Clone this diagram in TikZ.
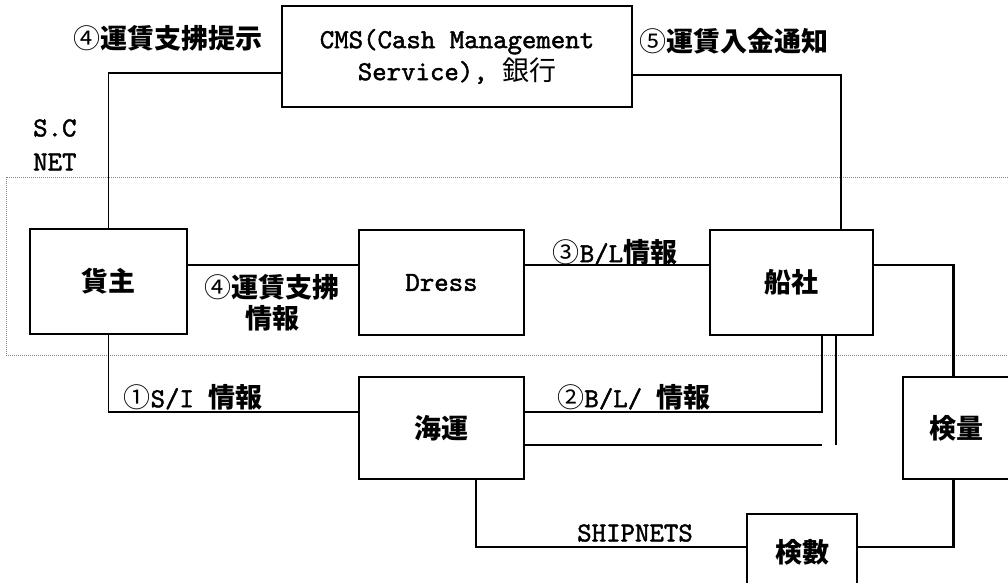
\documentclass[tikz,border=0pt]{standalone}
\usepackage{fontspec}
\newfontfamily\jp{Noto Sans CJK JP}
\newfontfamily\lmono{lmmono10-regular.otf}[FakeBold=1.6]
\newcommand\jpb{\jp\bfseries\fontsize{27}{30}\selectfont}
\newcommand\jpr{\jp\fontsize{27}{30}\selectfont}
\newcommand\cnum[1]{{\jp\fontsize{27}{30}\selectfont #1}}
\newcommand\latf{\lmono\fontsize{27.5}{33}\selectfont}
\tikzset{
  box/.style={draw, line width=1.4pt, inner sep=0pt, align=center},
  hbox/.style={box, line width=2.2pt},
  lab/.style={inner sep=0pt, align=center},
  con/.style={line width=1.2pt},
  heavy/.style={line width=2.6pt},
  netline/.style={line width=0.6pt, gray, dash pattern=on 1pt off 1pt},
}
\begin{document}
\begin{tikzpicture}[x=1pt,y=-1pt]
\useasboundingbox (0,0) rectangle (1008,582);
% S.C NET area
\draw[netline] (1012,177) -- (6,177) -- (6,355) -- (1012,355);
% boxes
\node[box, minimum width=350pt, minimum height=101pt] (cms) at (457,56.5)
  {{\latf CMS(Cash Management}\\[2pt]{\latf Service), }{\jpr 銀行}};
\node[box, minimum width=157pt, minimum height=105pt] (kanu) at (108.5,281.5) {\jpb 貨主};
\node[box, minimum width=165pt, minimum height=105pt] (dress) at (441.5,282.5) {\latf Dress};
\node[box, minimum width=163pt, minimum height=105pt] (sensha) at (791.5,282.5) {\jpb 船社};
\node[hbox, minimum width=165pt, minimum height=102pt] (kaiun) at (441.5,428) {\jpb 海運};
\node[hbox, minimum width=107pt, minimum height=102pt] (kenryo) at (956.5,428) {\jpb 検量};
\node[hbox, minimum width=110pt, minimum height=76pt] (kensu) at (802,552) {\jpb 検數};
% free ends
\coordinate (e1) at (822,445);
\coordinate (e2) at (836,445);
% connectors
\draw[con] ([yshift=-16.5pt]cms.west) -| (kanu.north);
\draw[con] ([yshift=-18.5pt]cms.east) -| ([xshift=49.5pt]sensha.north);
\draw[con] ([yshift=16.5pt]kanu.east) coordinate (k1) -- (k1 -| dress.west);
\draw[con] ([yshift=17.5pt]dress.east) coordinate (d1) -- (d1 -| sensha.west);
\draw[heavy] ([yshift=17.5pt]sensha.east) -| ([xshift=-3pt]kenryo.north);
\draw[heavy] ([xshift=-3pt]kenryo.south) |- ([yshift=5pt]kensu.east);
\draw[con] ([xshift=34.5pt]kaiun.south) |- ([yshift=5pt]kensu.west);
\draw[con] (kanu.south) |- ([yshift=16pt]kaiun.west);
\draw[con] ([yshift=16pt]kaiun.east) -| ([xshift=30.5pt]sensha.south);
\draw[heavy] ([yshift=-17pt]kaiun.east) -- (e1);
\draw[heavy] ([xshift=44.5pt]sensha.south) -- (e2);
% labels
\node[lab] (l4a) at (168,38) {\cnum{④}\jpb 運賃支拂提示};
\node[lab] (l5) at (734,41) {\cnum{⑤}\jpb 運賃入金通知};
\node[lab, anchor=west] (sc) at (33,128) {\latf S.C};
\node[lab, anchor=west] (net) at (33,162) {\latf NET};
\node[lab] (l4b) at (272,303) {\cnum{④}\jpb 運賃支拂\\[4pt]\jpb 情報};
\node[lab] (l3) at (615,252) {\cnum{③}{\latf B/L}{\jpb 情報}};
\node[lab] (l1) at (193,397) {\cnum{①}{\latf S/I }{\jpb 情報}};
\node[lab] (l2) at (634,397) {\cnum{②}{\latf B/L/ }{\jpb 情報}};
\node[lab] (ship) at (635,533) {\latf SHIPNETS};
\end{tikzpicture}
\end{document}
